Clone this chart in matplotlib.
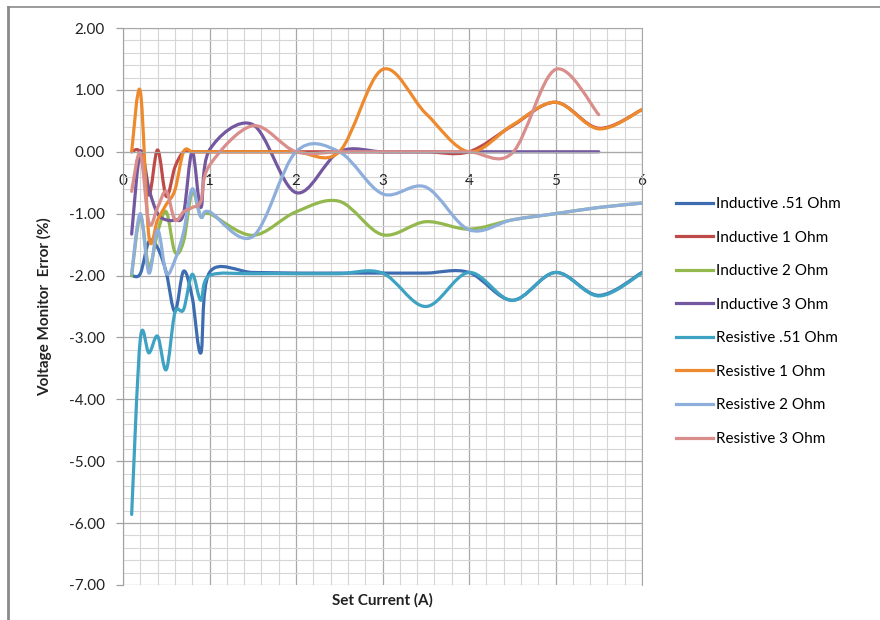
import matplotlib
matplotlib.use('Agg')
import numpy as np
import matplotlib.pyplot as plt
from matplotlib.path import Path
from matplotlib.patches import PathPatch
from matplotlib.lines import Line2D
from matplotlib.ticker import MultipleLocator, FuncFormatter

plt.rcParams['font.family'] = ['Lato', 'DejaVu Sans']

# set current (A)
current = [0.1, 0.2, 0.3, 0.4, 0.5, 0.6, 0.7, 0.8, 0.9, 1.0,
           1.5, 2.0, 2.5, 3.0, 3.5, 4.0, 4.5, 5.0, 5.5, 6.0]

# voltage monitor error (%)
ind_051 = [-2.0, -1.97, -1.45, -1.55, -1.95, -2.58, -1.93, -2.35, -3.25, -1.95,
           -1.95, -1.96, -1.96, -1.96, -1.96, -1.95, -2.4, -1.95, -2.32, -1.95]
ind_1 = [0.0, -0.02, -0.7, 0.03, -0.72, -0.25, 0.0, 0.0, 0.0, 0.0,
         0.0, 0.0, 0.0, 0.0, 0.0, 0.0, 0.42, 0.8, 0.38, 0.68]
ind_2 = [-2.0, -1.05, -1.85, -1.3, -0.97, -1.62, -1.45, -0.65, -1.05, -1.0,
         -1.35, -0.97, -0.8, -1.34, -1.13, -1.25, -1.1, -1.0, -0.9, -0.83]
ind_3 = [-1.33, 0.0, -0.6, -1.0, -1.1, -1.1, -1.0, 0.0, -0.9, 0.03,
         0.44, -0.66, 0.0, 0.0, 0.0, 0.0, 0.0, 0.0, 0.0]
res_051 = [-5.86, -3.03, -3.25, -2.98, -3.52, -2.6, -2.55, -1.98, -2.4, -2.0,
           -1.97, -1.97, -1.97, -1.96, -2.5, -1.95, -2.4, -1.95, -2.33, -1.96]
res_1 = [0.0, 0.98, -1.37, -1.1, -0.85, -0.62, 0.0, 0.0, 0.0, 0.0,
         0.0, 0.0, 0.0, 1.33, 0.62, 0.0, 0.43, 0.8, 0.37, 0.68]
res_2 = [-1.97, -1.0, -1.96, -1.26, -1.96, -1.75, -1.3, -0.6, -1.05, -0.97,
         -1.37, 0.0, 0.0, -0.68, -0.57, -1.26, -1.1, -1.0, -0.9, -0.83]
res_3 = [-0.64, -0.02, -1.15, -0.9, -0.64, -1.1, -0.97, -0.9, -0.8, -0.22,
         0.42, 0.0, 0.0, 0.0, 0.0, 0.0, -0.02, 1.33, 0.6]

labels = ['Inductive .51 Ohm', 'Inductive 1 Ohm', 'Inductive 2 Ohm', 'Inductive 3 Ohm',
          'Resistive .51 Ohm', 'Resistive 1 Ohm', 'Resistive 2 Ohm', 'Resistive 3 Ohm']
series = [ind_051, ind_1, ind_2, ind_3, res_051, res_1, res_2, res_3]
colors = ['#3d6db0', '#be4b48', '#92b84e', '#7358a0',
          '#3ea2c2', '#ee8a2e', '#8eaedb', '#d98e8c']


def smooth_path(xs, ys):
    # excel style smoothed line (bezier through the points)
    p = np.column_stack([xs, ys])
    n = len(p)
    verts = [p[0]]
    codes = [Path.MOVETO]
    for i in range(n - 1):
        p0 = p[i - 1] if i > 0 else p[i]
        p3 = p[i + 2] if i + 2 < n else p[i + 1]
        c1 = p[i] + (p[i + 1] - p0) / 6
        c2 = p[i + 1] - (p3 - p[i]) / 6
        verts += [c1, c2, p[i + 1]]
        codes += [Path.CURVE4] * 3
    return Path(verts, codes)


fig = plt.figure(figsize=(8.8, 6.2), dpi=100)
ax = fig.add_axes([123 / 880, 35 / 620, 519 / 880, 557 / 620])

for ys, c in zip(series, colors):
    xs = current[:len(ys)]
    ax.add_patch(PathPatch(smooth_path(xs, ys), facecolor='none', edgecolor=c,
                           lw=2.3, capstyle='round', joinstyle='round'))

ax.set_xlim(0, 6)
ax.set_ylim(-7, 2)
ax.xaxis.set_major_locator(MultipleLocator(1))
ax.xaxis.set_minor_locator(MultipleLocator(0.2))
ax.yaxis.set_major_locator(MultipleLocator(1))
ax.yaxis.set_minor_locator(MultipleLocator(0.2))
ax.yaxis.set_major_formatter(FuncFormatter(lambda v, pos: f'{v:.2f}'))
ax.xaxis.set_major_formatter(FuncFormatter(lambda v, pos: f'{v:.0f}'))

ax.grid(which='major', color='#a8a8a8', lw=0.9)
ax.grid(which='minor', color='#d6d6d6', lw=0.8)
ax.set_axisbelow(True)

ax.spines['bottom'].set_position(('data', 0))
ax.spines['bottom'].set_color('#a8a8a8')
ax.spines['left'].set_color('#a0a0a0')
ax.spines['top'].set_color('#a8a8a8')
ax.spines['right'].set_color('#a8a8a8')

ax.tick_params(axis='y', which='major', length=5, width=0.9, color='#a0a0a0',
               labelsize=11, labelcolor='#222222', pad=8)
ax.tick_params(axis='x', which='major', length=0, labelsize=11,
               labelcolor='#222222', pad=16)
ax.tick_params(which='minor', length=0)

fig.text(382.5 / 880, 1 - 600 / 620, 'Set Current (A)', ha='center', va='center',
         fontsize=11, fontweight='bold', color='#222222')
fig.text(45 / 880, 1 - 307 / 620, 'Voltage Monitor  Error (%)', ha='center', va='center',
         rotation=90, fontsize=11, fontweight='bold', color='#222222')

handles = [Line2D([], [], color=c, lw=2.3) for c in colors]
fig.legend(handles, labels, loc='upper left', bbox_to_anchor=(676 / 880, 1 - 197 / 620),
           frameon=False, fontsize=11, handlelength=2.4, handletextpad=0.25,
           labelspacing=1.28, borderpad=0, borderaxespad=0)

# chart border
fig.add_artist(Line2D([8 / 880, 8 / 880], [0, 1 - 7 / 620], color='#8a8a8a', lw=2))
fig.add_artist(Line2D([8 / 880, 1], [1 - 7 / 620, 1 - 7 / 620], color='#8a8a8a', lw=1.2))

fig.savefig('out.png', dpi=100)
